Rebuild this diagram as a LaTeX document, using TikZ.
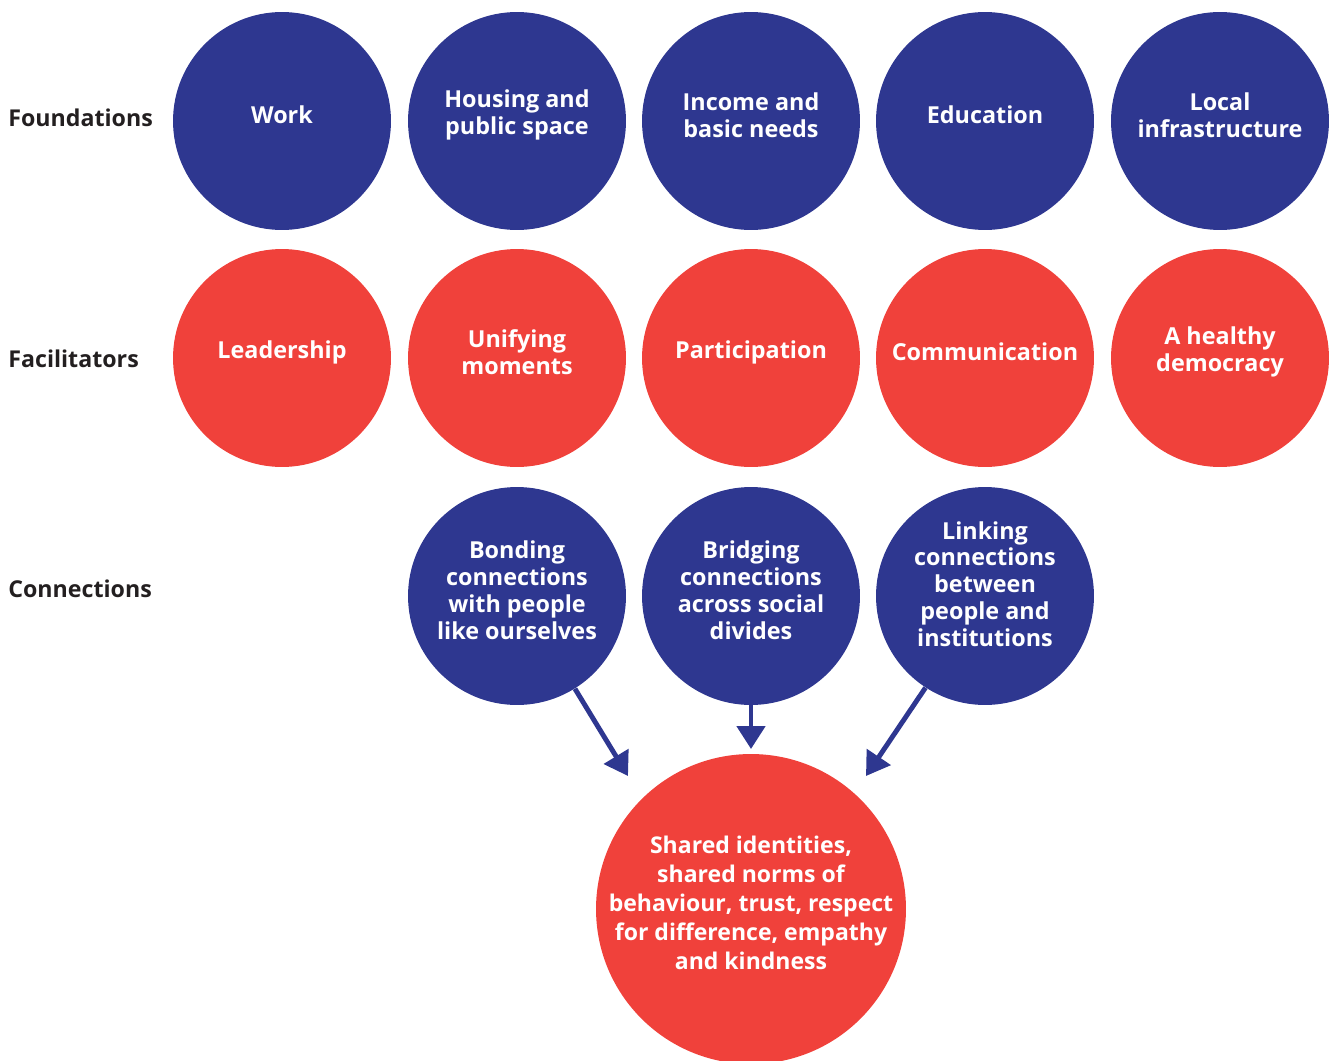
\documentclass[tikz,border=0pt]{standalone}
\usepackage{fontspec}
\setmainfont{Open Sans}
\usetikzlibrary{arrows.meta}

\definecolor{navy}{HTML}{2E3790}
\definecolor{coral}{HTML}{F0413B}
\definecolor{darktext}{HTML}{231F20}

\tikzset{
	blob/.style={circle, minimum size=4.36cm, inner sep=0pt},
	found/.style={blob, fill=navy},
	facil/.style={blob, fill=coral},
	conn/.style={blob, fill=navy},
	blobtext/.style={align=center, inner sep=0pt, text=white, yshift=0.12cm,
		font=\bfseries\fontsize{13.3}{15.3}\selectfont},
	rowlabel/.style={anchor=west, inner sep=0pt, text=darktext,
		font=\bfseries\fontsize{13.2}{15.3}\selectfont},
	arr/.style={draw=navy, line width=2.8pt, -{Triangle[length=0.46cm,width=0.56cm,fill=navy]}}
}

\begin{document}
\begin{tikzpicture}[x=0.02cm,y=-0.02cm]
	\useasboundingbox (0,0) rectangle (1332,1061);
	% Row labels
	\node[rowlabel] (lfound) at (8,118) {Foundations};
	\node[rowlabel] (lfacil) at (8,359) {Facilitators};
	\node[rowlabel] (lconn) at (8,589) {Connections};
	% Foundations
	\node[found, label={[blobtext]center:Work}] (work) at (282,121) {};
	\node[found, label={[blobtext]center:{Housing and\\public space}}] (housing) at (517,121) {};
	\node[found, label={[blobtext]center:{Income and\\basic needs}}] (income) at (751,121) {};
	\node[found, label={[blobtext]center:Education}] (educ) at (985,121) {};
	\node[found, label={[blobtext]center:{Local\\infrastructure}}] (local) at (1220,121) {};
	% Facilitators
	\node[facil, label={[blobtext]center:Leadership}] (lead) at (282,358) {};
	\node[facil, label={[blobtext]center:{Unifying\\moments}}] (unify) at (517,358) {};
	\node[facil, label={[blobtext]center:Participation}] (partic) at (751,358) {};
	\node[facil, label={[blobtext]center:Communication}] (commun) at (985,358) {};
	\node[facil, label={[blobtext]center:{A healthy\\democracy}}] (democ) at (1220,358) {};
	% Connections
	\node[conn, label={[blobtext]center:{Bonding\\connections\\with people\\like ourselves}}] (bond) at (517,596) {};
	\node[conn, label={[blobtext]center:{Bridging\\connections\\across social\\divides}}] (bridge) at (751,596) {};
	\node[conn, label={[blobtext, yshift=0.12cm]center:{Linking\\connections\\between\\people and\\institutions}}] (link) at (985,596) {};
	% Outcome
	\node[blob, fill=coral, minimum size=6.2cm,
		label={[blobtext, font=\bfseries\fontsize{13.1}{16.5}\selectfont]center:{Shared identities,\\shared norms of\\behaviour, trust, respect\\for difference, empathy\\and kindness}}]
		(shared) at (751,909) {};
	% Arrow tips
	\coordinate (tipa) at (628,776);
	\coordinate (tipb) at (751,749);
	\coordinate (tipc) at (866,776);
	% Edges
	\draw[arr] (bond.-58) -- (tipa);
	\draw[arr] (bridge.south) -- (tipb);
	\draw[arr] (link.-123) -- (tipc);
\end{tikzpicture}
\end{document}
